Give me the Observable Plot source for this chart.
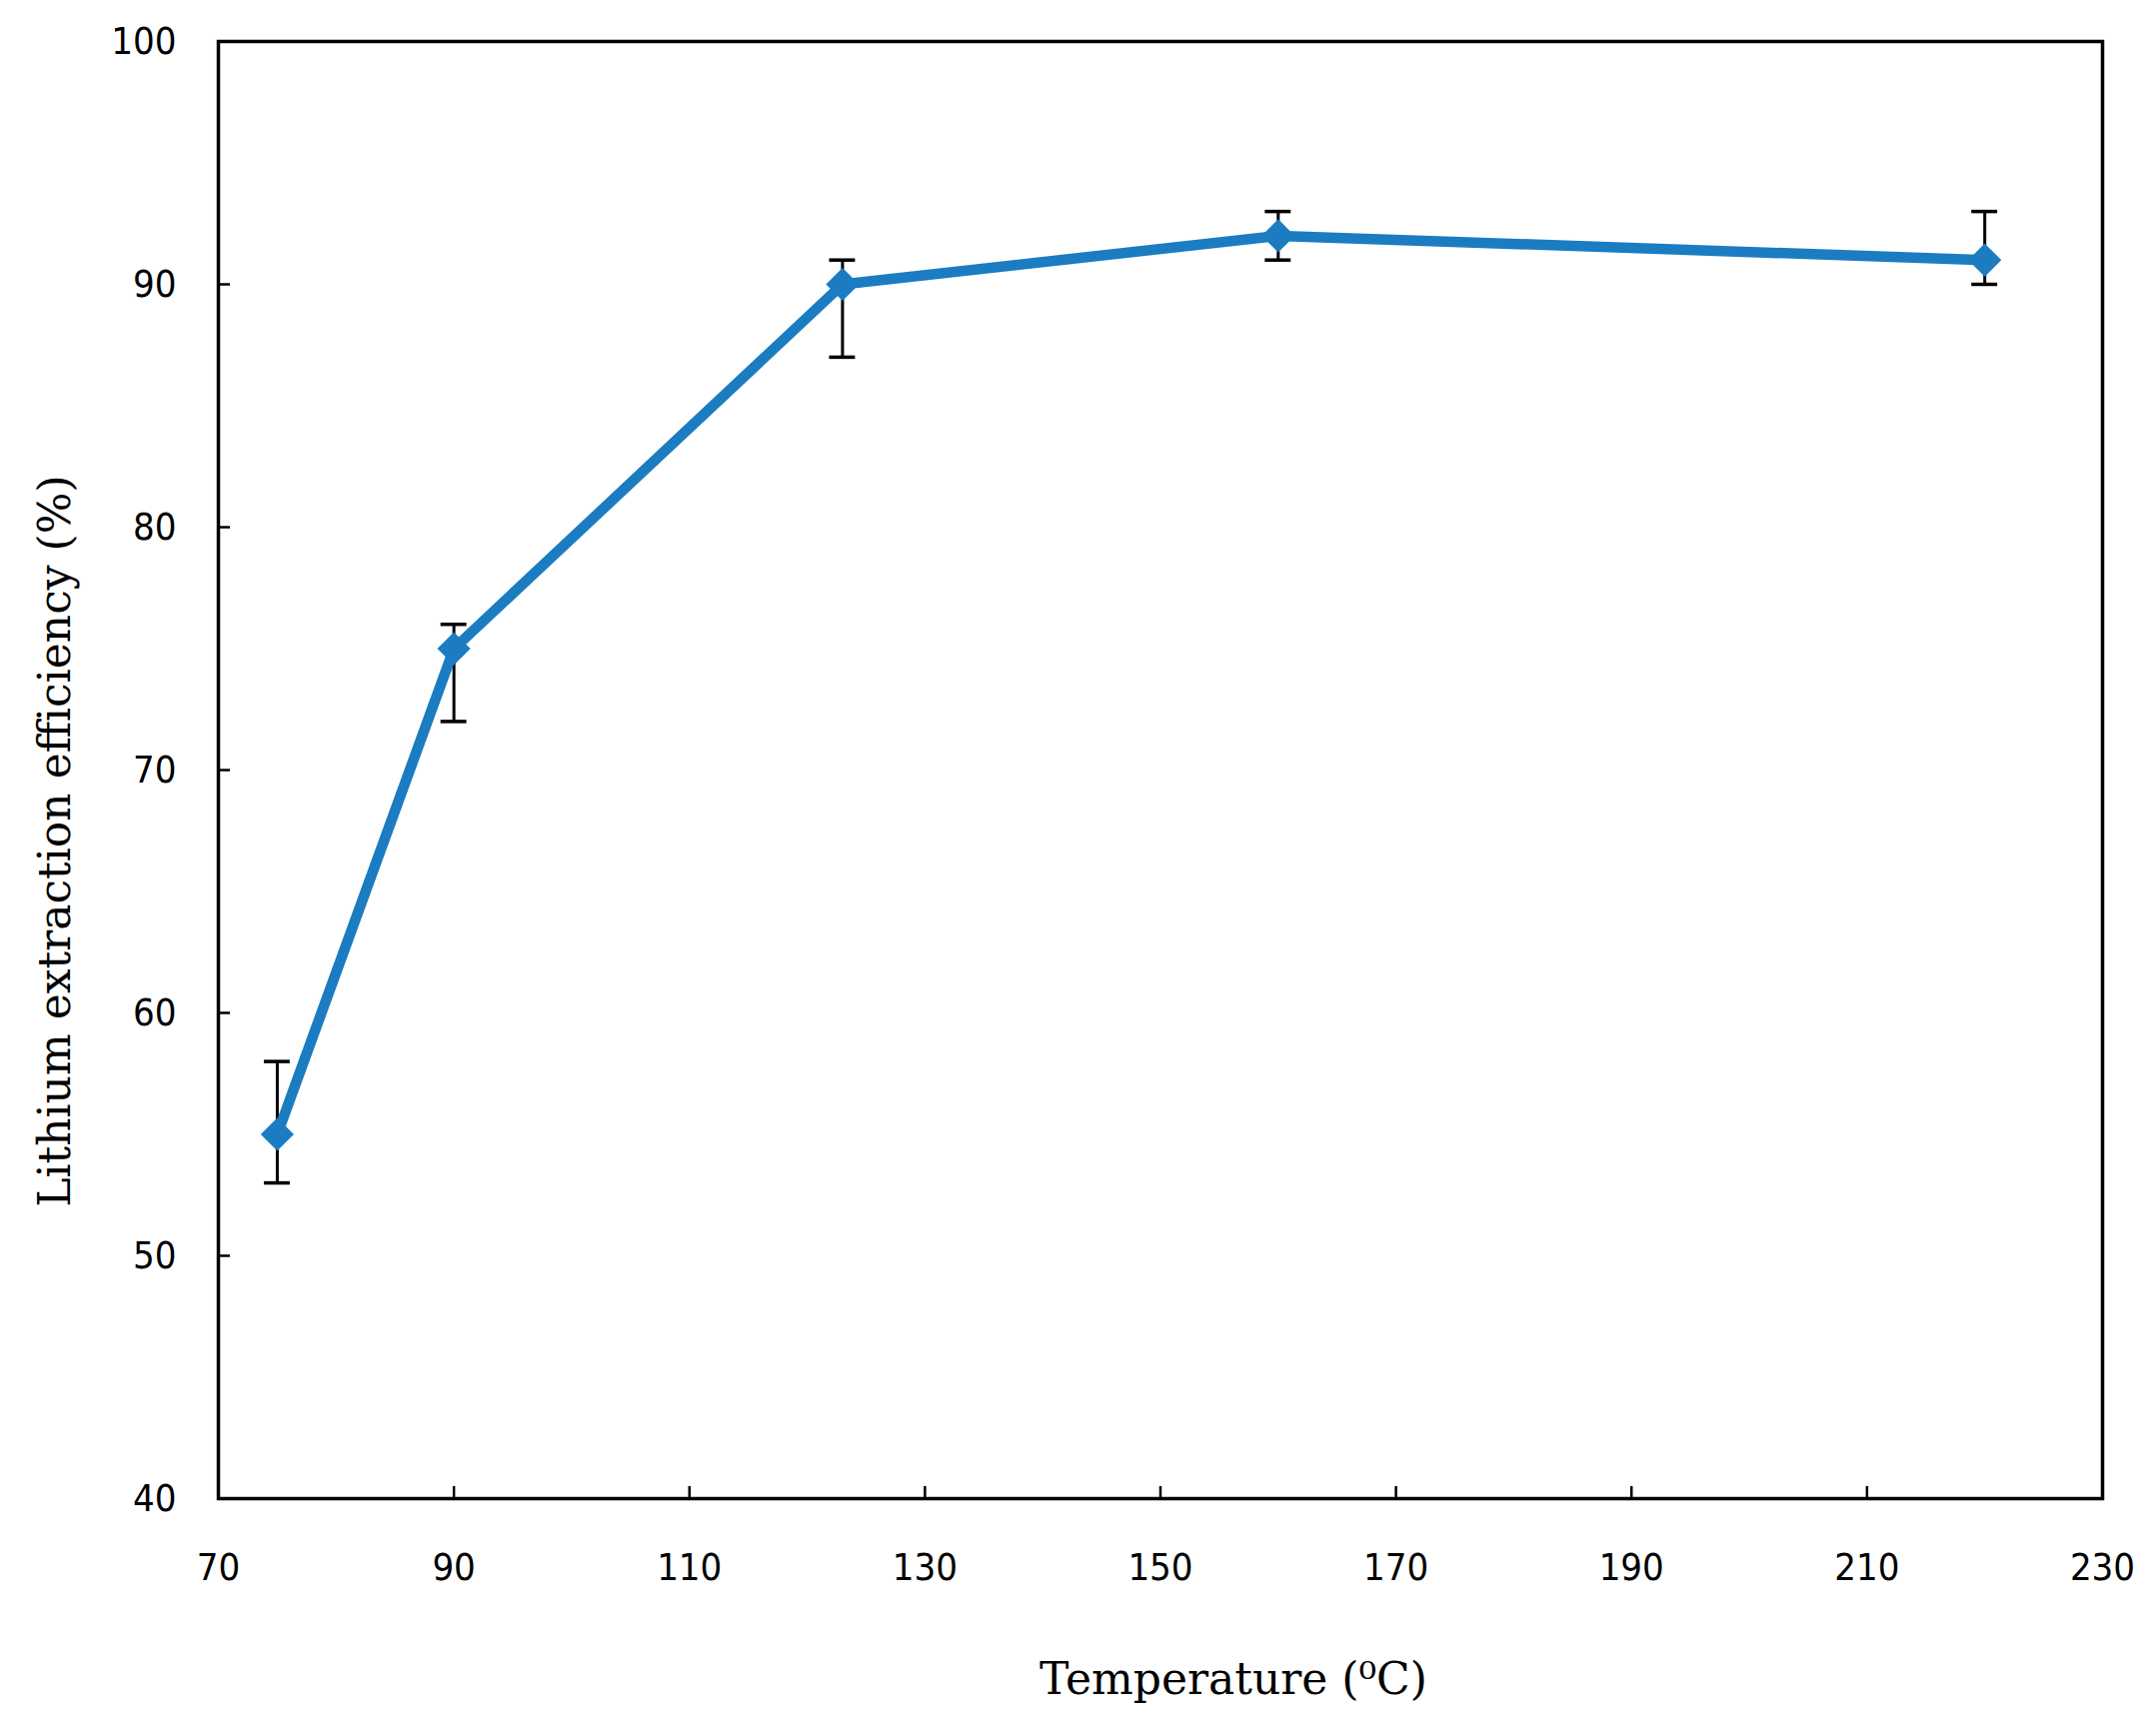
<!DOCTYPE html>
<html>
<head>
<meta charset="utf-8">
<script src="https://cdn.jsdelivr.net/npm/d3@7"></script>
<script src="https://cdn.jsdelivr.net/npm/@observablehq/plot@0.6"></script>
<style>
  html, body { margin: 0; padding: 0; background: #fff; }
  #chart svg { display: block; }
</style>
</head>
<body>
<div id="chart"></div>
<script>
const temperature = [75, 90, 123, 160, 220];
const efficiency = [55, 75, 90, 92, 91];
const errUpper = [58, 76, 91, 93, 93];
const errLower = [53, 72, 87, 91, 90];
const xTicks = [70, 90, 110, 130, 150, 170, 190, 210, 230];
const yTicks = [40, 50, 60, 70, 80, 90, 100];
const xTitle = "Temperature (\u2070C)";
const yTitle = "Lithium extraction efficiency (%)";

const data = temperature.map((t, i) => ({t, e: efficiency[i], hi: errUpper[i], lo: errLower[i]}));
const capHalf = 1.1; // half-width of error-bar caps in °C

const blue = "#1b7cc1";
const tickFont = "'DejaVu Sans Condensed', 'DejaVu Sans', sans-serif";
const titleFont = "'DejaVu Serif', 'Liberation Serif', serif";

const chart = Plot.plot({
  width: 2155,
  height: 1737,
  marginLeft: 218,
  marginRight: 52,
  marginTop: 41,
  marginBottom: 238,
  style: {fontFamily: tickFont, fontSize: "38px", color: "#000", background: "#fff"},
  x: {domain: [70, 230], axis: null},
  y: {domain: [40, 100], axis: null},
  marks: [
    Plot.frame({stroke: "#000", strokeWidth: 3.5}),
    // inward ticks
    Plot.axisX(xTicks, {anchor: "bottom", tickSize: 12, dy: -12, tickFormat: () => "", strokeWidth: 2.5, label: null}),
    Plot.axisY(yTicks, {anchor: "left", tickSize: 12, dx: 12, tickFormat: () => "", strokeWidth: 2.5, label: null}),
    // labels
    Plot.axisX(xTicks, {anchor: "bottom", tickSize: 0, tickPadding: 55, fontSize: 38, label: null}),
    Plot.axisY(yTicks, {anchor: "left", tickSize: 0, tickPadding: 42, fontSize: 38, label: null}),
    // error bars
    Plot.ruleX(data, {x: "t", y1: "lo", y2: "hi", stroke: "#000", strokeWidth: 3}),
    Plot.ruleY(data, {y: "hi", x1: d => d.t - capHalf, x2: d => d.t + capHalf, stroke: "#000", strokeWidth: 3.5}),
    Plot.ruleY(data, {y: "lo", x1: d => d.t - capHalf, x2: d => d.t + capHalf, stroke: "#000", strokeWidth: 3.5}),
    // line and markers
    Plot.line(data, {x: "t", y: "e", stroke: blue, strokeWidth: 10.5, strokeLinejoin: "round"}),
    Plot.dot(data, {x: "t", y: "e", symbol: "diamond2", r: 14, fill: blue, stroke: blue}),
    // axis titles
    Plot.text([xTitle], {frameAnchor: "bottom", dx: 73, dy: 195, text: d => d, fontFamily: titleFont, fontSize: 44, fill: "#000"}),
    Plot.text([yTitle], {frameAnchor: "left", textAnchor: "middle", dx: -163, dy: 71, rotate: -90, text: d => d, fontFamily: titleFont, fontSize: 44, fill: "#000"})
  ]
});
document.getElementById("chart").appendChild(chart);
</script>
</body>
</html>
